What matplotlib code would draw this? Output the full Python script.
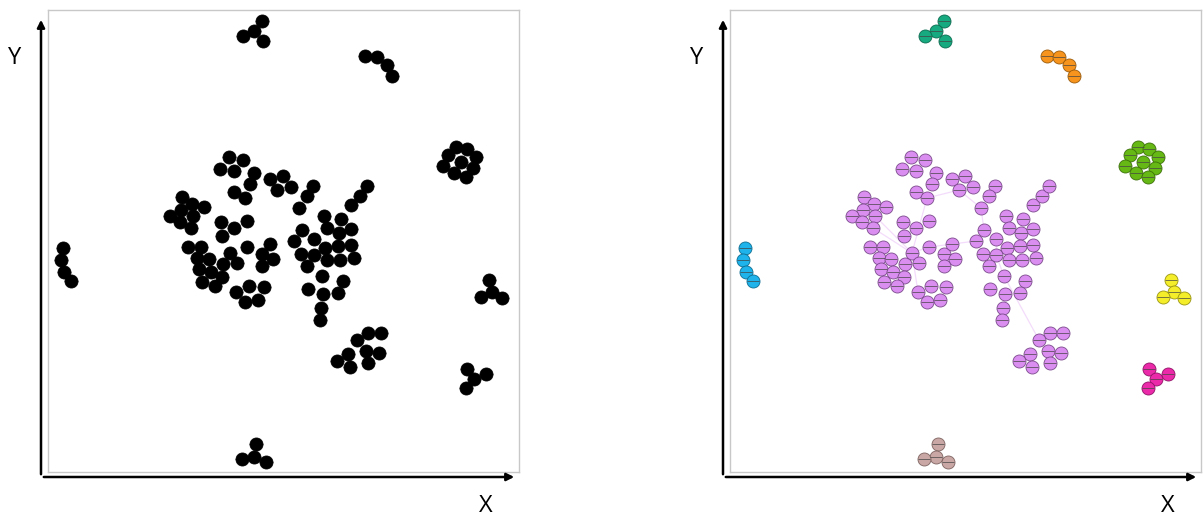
import matplotlib.pyplot as plt
from matplotlib.patches import FancyArrowPatch

plt.rcParams['font.family'] = ['Open Sans', 'DejaVu Sans']

# node positions (same layout in both panels)
teal_x = [214, 206, 195, 215]
teal_y = [451, 441, 436, 431]
orange_x = [317, 329, 339, 344]
orange_y = [416, 415, 407, 396]
green_x = [408, 419, 428, 400, 413, 395, 425, 406, 418]
green_y = [325, 323, 315, 317, 310, 306, 304, 299, 295]
blue_x = [15, 13, 16, 23]
blue_y = [224, 212, 200, 191]
yellow_x = [441, 444, 433, 454]
yellow_y = [192, 180, 175, 174]
pink_x = [419, 426, 438, 418]
pink_y = [103, 93, 98, 84]
brown_x = [208, 206, 194, 218]
brown_y = [28, 15, 13, 10]
purple_x = [181, 195, 172, 186, 206, 202, 186, 197,
            222, 235, 243, 229,
            265, 259, 251,
            134, 144, 156, 133, 145, 122, 132, 143,
            173, 186, 199, 174,
            140, 153, 149, 161, 151, 163, 175, 182, 189, 174, 154, 167, 199, 214, 222, 225, 214,
            188, 201, 216, 197, 210,
            276, 293, 279, 291, 303, 303, 312, 319, 254, 246, 266, 277, 290, 303, 253, 266,
            279, 292, 306, 259, 274, 295, 260, 275, 290, 273, 272,
            320, 333, 309, 318, 331, 300, 289, 320, 302]
purple_y = [315, 312, 303, 301, 299, 288, 280, 274,
            293, 296, 285, 282,
            286, 276, 264,
            275, 268, 265, 262, 256, 256, 250, 244,
            250, 244, 251, 236,
            225, 225, 214, 213, 203, 200, 208, 219, 209, 195, 190, 186, 225, 218, 228, 213, 206,
            180, 186, 185, 170, 172,
            256, 253, 244, 239, 243, 267, 276, 286, 242, 231, 233, 224, 226, 227, 218, 217,
            212, 212, 214, 206, 196, 191, 183, 178, 179, 164, 152,
            139, 139, 132, 121, 119, 118, 111, 109, 105]
# faint links inside the big community (indices into purple arrays)
purple_edges = [(7, 34), (7, 11), (11, 14), (14, 57), (19, 34), (34, 39), (39, 58),
                (34, 44), (69, 78), (64, 59), (69, 64), (6, 7), (22, 34)]

clusters = [
    (teal_x, teal_y, '#17a97f', '#0b6b50'),
    (orange_x, orange_y, '#f7941d', '#9a5a0a'),
    (green_x, green_y, '#66b814', '#3c700a'),
    (blue_x, blue_y, '#1eb3ea', '#0d6d92'),
    (yellow_x, yellow_y, '#f4ee2a', '#9a9410'),
    (pink_x, pink_y, '#ea2aa8', '#8f1366'),
    (brown_x, brown_y, '#c9a7a4', '#7d6360'),
    (purple_x, purple_y, '#d98ef0', '#7a4a8a'),
]

fig = plt.figure(figsize=(12.03, 5.16), dpi=100)
W, H = 1203, 516


def draw_panel(left_px, colored):
    ax = fig.add_axes([left_px / W, (H - 472) / H, 471 / W, 462 / H])
    ax.set_xlim(0, 471)
    ax.set_ylim(0, 462)
    ax.set_xticks([])
    ax.set_yticks([])
    for s in ax.spines.values():
        s.set_color('#c8c8c8')
        s.set_linewidth(1)
    if colored:
        for a, b in purple_edges:
            ax.plot([purple_x[a], purple_x[b]], [purple_y[a], purple_y[b]],
                    color='#f3dcfb', lw=0.9, zorder=1)
    for xs, ys, fc, ec in clusters:
        if colored:
            ax.scatter(xs, ys, s=88, c=fc, edgecolors=ec, linewidths=0.6, zorder=3)
            ax.plot(xs, ys, ls='none', marker='_', ms=8, mew=0.5, color='#444444', zorder=4)
        else:
            ax.scatter(xs, ys, s=88, c='black', edgecolors='black', linewidths=0.6, zorder=3)
            ax.plot(xs, ys, ls='none', marker='_', ms=10.5, mew=0.5, color='#222222', zorder=2)
    return ax


def draw_axes_arrows(x0, label_x):
    y0 = 477
    fig.add_artist(FancyArrowPatch((x0 / W, 1 - y0 / H), (x0 / W, 1 - 17 / H),
                                   transform=fig.transFigure, arrowstyle='-|>',
                                   mutation_scale=11, lw=1.8, color='black'))
    fig.add_artist(FancyArrowPatch((x0 / W, 1 - y0 / H), ((x0 + 476) / W, 1 - y0 / H),
                                   transform=fig.transFigure, arrowstyle='-|>',
                                   mutation_scale=11, lw=1.8, color='black'))
    fig.text((x0 - 26) / W, 1 - 58 / H, 'Y', fontsize=17, ha='center', va='center')
    fig.text(label_x / W, 1 - 506 / H, 'X', fontsize=17, ha='center', va='center')


draw_panel(48, colored=False)
draw_panel(730, colored=True)
draw_axes_arrows(41, 486)
draw_axes_arrows(723, 1168)

fig.savefig('out.png', dpi=100)
